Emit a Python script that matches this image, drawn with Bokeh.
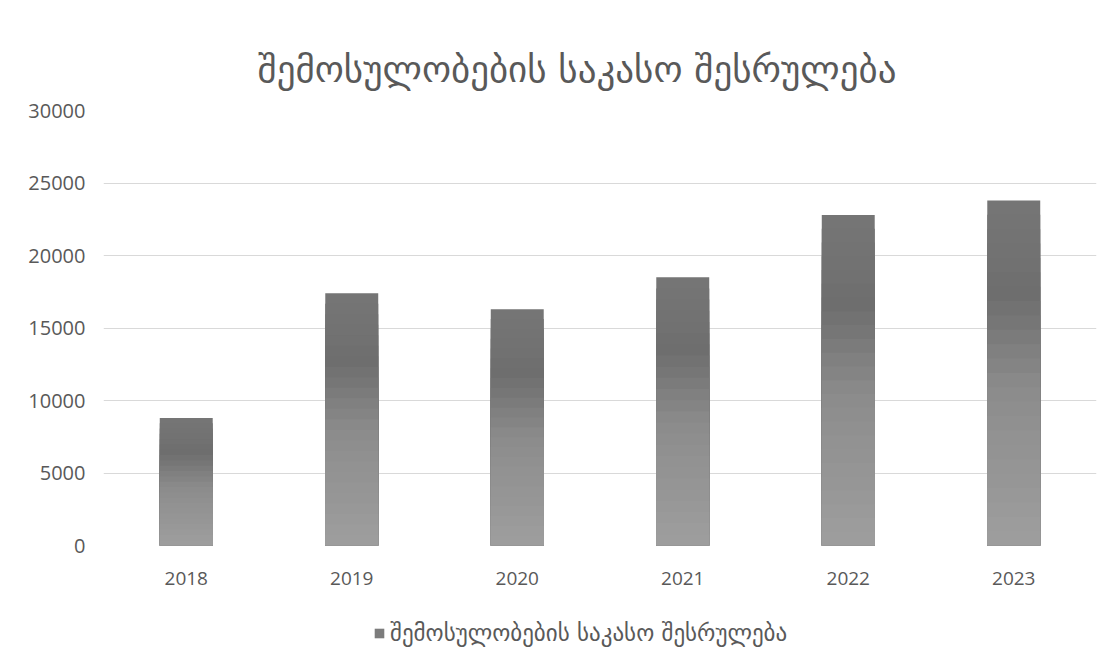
from bokeh.plotting import figure
from bokeh.models import FactorRange, Range1d, Legend, LegendItem, Label
from bokeh.layouts import column
from bokeh.embed import file_html
from bokeh.resources import INLINE

# ---- data ----
years = ["2018", "2019", "2020", "2021", "2022", "2023"]
values = [8800, 17400, 16300, 18500, 22800, 23800]
y_ticks = [0, 5000, 10000, 15000, 20000, 25000, 30000]
title_text = "შემოსულობების საკასო შესრულება"
series_name = "შემოსულობების საკასო შესრულება"

# ---- style ----
TXT = "#595959"
GEO_FONT = "DejaVu Sans"
NUM_FONT = "Open Sans"
LEGEND_COLOR = "#7c7c7c"
W = 1100

def strip(height, **kw):
    f = figure(width=W, height=height, output_backend="svg", toolbar_location=None,
               x_axis_type=None, y_axis_type=None,
               min_border_left=0, min_border_right=0, min_border_top=0,
               min_border_bottom=0, background_fill_color="white",
               border_fill_color="white", **kw)
    f.outline_line_color = None
    f.xgrid.grid_line_color = None
    f.ygrid.grid_line_color = None
    return f

# ---- title strip ----
p0 = strip(94, x_range=Range1d(0, 1), y_range=Range1d(0, 1))
p0.add_layout(Label(x=154, y=25, x_units="screen", y_units="screen",
                    text=title_text, text_font=GEO_FONT, text_font_size="37px",
                    text_color=TXT, text_align="left", text_baseline="middle"))

# ---- main chart ----
p = figure(x_range=FactorRange(*years), y_range=Range1d(0, 30000),
           width=W, height=496,
           output_backend="svg", toolbar_location=None,
           min_border_left=103, min_border_right=4, min_border_top=16,
           min_border_bottom=45, background_fill_color="white",
           border_fill_color="white")
p.outline_line_color = None

N = 24
def shade(f):
    stops = [(0.0, 0x9e), (0.45, 0x8c), (0.72, 0x6e), (1.0, 0x76)]
    for (f0, c0), (f1, c1) in zip(stops, stops[1:]):
        if f <= f1:
            t = (f - f0) / (f1 - f0)
            c = int(round(c0 + t * (c1 - c0)))
            return "#%02x%02x%02x" % (c, c, c)
    c = stops[-1][1]
    return "#%02x%02x%02x" % (c, c, c)

for i in range(N, 0, -1):
    frac = i / N
    tops = [v * frac for v in values]
    p.vbar(x=years, top=tops, bottom=0, width=0.32,
           fill_color=shade((i - 0.5) / N), line_color=None)

p.yaxis.ticker = y_ticks
p.yaxis.axis_line_color = None
p.yaxis.major_tick_line_color = None
p.yaxis.minor_tick_line_color = None
p.yaxis.major_label_text_font = NUM_FONT
p.yaxis.major_label_text_font_size = "20px"
p.yaxis.major_label_text_color = TXT
p.yaxis.major_label_standoff = 12

p.xaxis.axis_line_color = None
p.xaxis.major_tick_line_color = None
p.xaxis.major_label_text_font = NUM_FONT
p.xaxis.major_label_text_font_size = "19px"
p.xaxis.major_label_text_color = TXT
p.xaxis.major_label_standoff = 20

p.xgrid.grid_line_color = None
p.ygrid.grid_line_color = "#d9d9d9"
p.ygrid.grid_line_width = 1

# ---- legend strip ----
p2 = strip(60, x_range=FactorRange(*years), y_range=Range1d(0, 1))
leg_r = p2.vbar(x=years, top=values, width=0.32, fill_color=LEGEND_COLOR,
                line_color=None, visible=False)
legend = Legend(items=[LegendItem(label=series_name, renderers=[leg_r])],
                orientation="horizontal", location=(270, 4),
                label_text_font=GEO_FONT, label_text_font_size="23px",
                label_text_color=TXT, glyph_width=12, glyph_height=12,
                border_line_color=None, background_fill_alpha=0,
                inactive_fill_alpha=0,
                margin=0, padding=0, label_standoff=5)
p2.add_layout(legend, "center")

layout = column(p0, p, p2, spacing=0)
open("out.html", "w").write(file_html(layout, INLINE))
